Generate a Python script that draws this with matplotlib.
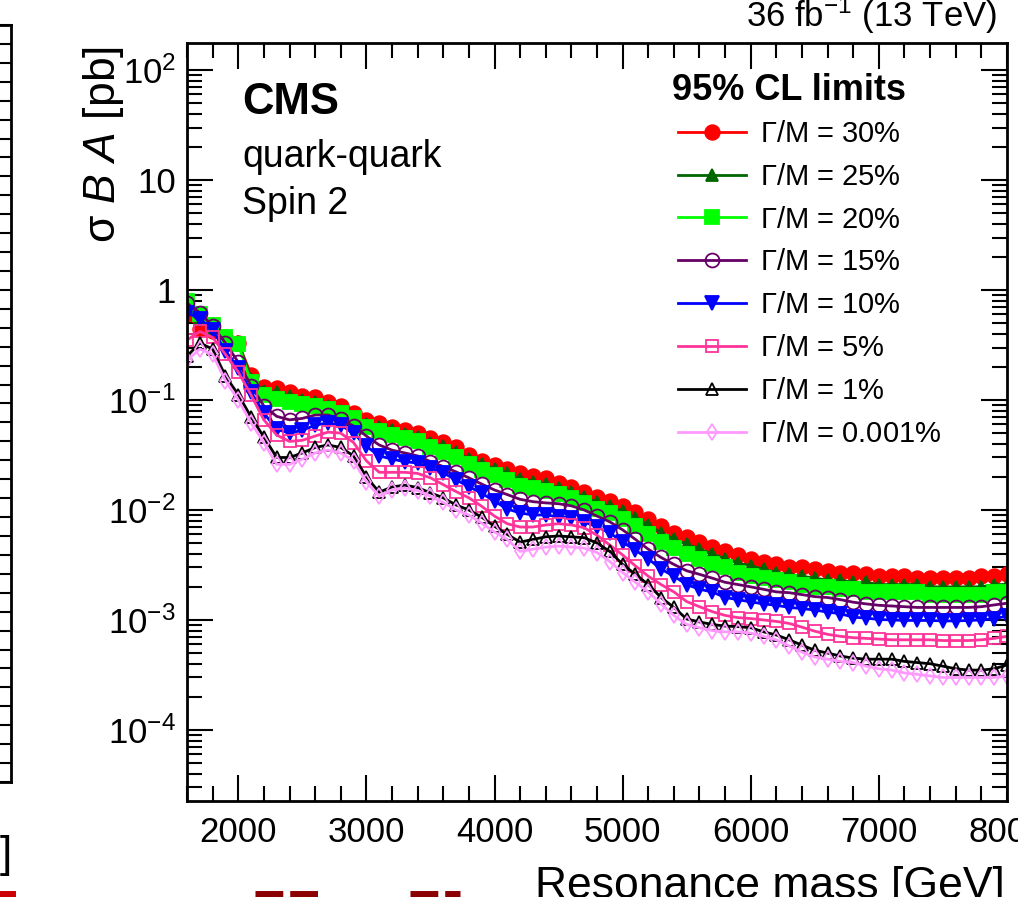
import matplotlib
matplotlib.use("Agg")
import matplotlib.pyplot as plt
import matplotlib.ticker as mticker
from matplotlib.lines import Line2D
import numpy as np

plt.rcParams['font.family'] = ['Liberation Sans', 'DejaVu Sans']
plt.rcParams['mathtext.fontset'] = 'custom'
plt.rcParams['mathtext.rm'] = 'Liberation Sans'
plt.rcParams['mathtext.it'] = 'Liberation Sans:italic'
plt.rcParams['mathtext.bf'] = 'Liberation Sans:bold'

# resonance mass points [GeV]
mass = list(range(1600, 8100, 100))

# 95% CL upper limits on sigma*B*A [pb], one list per width hypothesis
lim_30 = [0.60, 0.44, 0.42, 0.37, 0.33, 0.17, 0.13, 0.128, 0.118, 0.109,
          0.107, 0.096, 0.088, 0.076, 0.066, 0.062, 0.057, 0.053, 0.050, 0.045,
          0.0415, 0.037, 0.0315, 0.028, 0.0257, 0.0238, 0.0217, 0.0203, 0.0194, 0.0176,
          0.0162, 0.0145, 0.0130, 0.0121, 0.0109, 0.0096, 0.0083, 0.0071, 0.0062, 0.0057,
          0.0051, 0.0046, 0.0042, 0.0039, 0.0036, 0.0034, 0.0032, 0.0030, 0.0030, 0.0029,
          0.0028, 0.0027, 0.00267, 0.0026, 0.0025, 0.0025, 0.0025, 0.0024, 0.0024, 0.0024,
          0.0024, 0.0024, 0.0025, 0.0025, 0.0026]
lim_25 = [0.70, 0.55, 0.45, 0.36, 0.34, 0.155, 0.12, 0.118, 0.108, 0.099,
          0.096, 0.088, 0.080, 0.070, 0.061, 0.057, 0.053, 0.049, 0.046, 0.041,
          0.038, 0.034, 0.029, 0.026, 0.0237, 0.0215, 0.0192, 0.0180, 0.0173, 0.0158,
          0.0146, 0.0131, 0.0117, 0.0108, 0.0097, 0.0085, 0.0073, 0.0062, 0.0054, 0.0049,
          0.0044, 0.0040, 0.0036, 0.0033, 0.0031, 0.0029, 0.0027, 0.0026, 0.0025, 0.0024,
          0.0023, 0.0023, 0.0022, 0.0022, 0.0021, 0.0021, 0.0021, 0.0021, 0.0020, 0.0020,
          0.0020, 0.0020, 0.0020, 0.0021, 0.0021]
lim_20 = [0.80, 0.60, 0.48, 0.37, 0.32, 0.145, 0.11, 0.103, 0.096, 0.092,
          0.089, 0.083, 0.076, 0.068, 0.057, 0.052, 0.048, 0.045, 0.042, 0.037,
          0.034, 0.030, 0.026, 0.0232, 0.0208, 0.0188, 0.0165, 0.0157, 0.0150, 0.0139,
          0.0128, 0.0116, 0.0103, 0.0094, 0.0083, 0.0072, 0.0061, 0.0051, 0.0045, 0.0040,
          0.0036, 0.0032, 0.0030, 0.0027, 0.0025, 0.0024, 0.0023, 0.0022, 0.0021, 0.0020,
          0.0020, 0.0019, 0.0019, 0.0018, 0.0018, 0.0018, 0.0018, 0.0018, 0.0017, 0.0017,
          0.0017, 0.0017, 0.0017, 0.0018, 0.0018]
lim_15 = [0.76, 0.62, 0.47, 0.33, 0.22, 0.135, 0.088, 0.071, 0.066, 0.068,
          0.073, 0.073, 0.067, 0.058, 0.047, 0.039, 0.035, 0.033, 0.031, 0.0275,
          0.0248, 0.0222, 0.0196, 0.0172, 0.0152, 0.0138, 0.0125, 0.0119, 0.0116, 0.0114,
          0.0109, 0.0100, 0.0088, 0.0078, 0.0066, 0.0054, 0.0044, 0.0037, 0.0032, 0.0028,
          0.0026, 0.0024, 0.0022, 0.0021, 0.0020, 0.0019, 0.0018, 0.00177, 0.0017, 0.00163,
          0.0016, 0.00153, 0.00145, 0.0014, 0.00136, 0.00134, 0.00132, 0.0013, 0.0013, 0.0013,
          0.0013, 0.0013, 0.00132, 0.00137, 0.00142]
lim_10 = [0.62, 0.55, 0.43, 0.28, 0.195, 0.118, 0.076, 0.054, 0.050, 0.053,
          0.059, 0.062, 0.059, 0.050, 0.038, 0.031, 0.029, 0.0275, 0.0267, 0.024,
          0.0217, 0.0188, 0.0163, 0.0142, 0.0120, 0.0102, 0.0094, 0.0090, 0.0090, 0.0087,
          0.0085, 0.0078, 0.0070, 0.0062, 0.0051, 0.0043, 0.0036, 0.0029, 0.0025, 0.0021,
          0.0019, 0.0018, 0.0016, 0.00153, 0.00146, 0.0014, 0.00136, 0.0013, 0.00127, 0.00123,
          0.00118, 0.00114, 0.00106, 0.00104, 0.00101, 0.0010, 0.00099, 0.00099, 0.00099, 0.00098,
          0.00098, 0.00099, 0.0010, 0.00103, 0.00108]
lim_5 = [0.35, 0.42, 0.37, 0.26, 0.18, 0.111, 0.066, 0.048, 0.042, 0.043,
         0.047, 0.051, 0.050, 0.041, 0.028, 0.022, 0.022, 0.022, 0.0215, 0.0196,
         0.0170, 0.0147, 0.0129, 0.0108, 0.0088, 0.0075, 0.0070, 0.0070, 0.0073, 0.0075,
         0.0073, 0.0069, 0.0059, 0.0048, 0.0039, 0.0031, 0.0025, 0.0021, 0.0018, 0.00147,
         0.00132, 0.00119, 0.0011, 0.00105, 0.00103, 0.0010, 0.00097, 0.00093, 0.00086, 0.00079,
         0.00074, 0.00071, 0.00069, 0.00068, 0.00067, 0.00066, 0.00066, 0.00066, 0.00066, 0.00065,
         0.00065, 0.00065, 0.00066, 0.00068, 0.00071]
lim_1 = [0.25, 0.33, 0.29, 0.165, 0.112, 0.070, 0.046, 0.030, 0.030, 0.033,
         0.037, 0.039, 0.037, 0.031, 0.020, 0.0145, 0.0162, 0.0168, 0.0160, 0.0143,
         0.0129, 0.0111, 0.0100, 0.0086, 0.0071, 0.0060, 0.0051, 0.0054, 0.0057, 0.0058,
         0.0057, 0.0056, 0.0050, 0.0042, 0.0032, 0.0026, 0.0021, 0.0016, 0.0013, 0.00102,
         0.00096, 0.00091, 0.00088, 0.00087, 0.00085, 0.00078, 0.00073, 0.00066, 0.00059, 0.00053,
         0.00050, 0.00047, 0.00045, 0.00044, 0.00044, 0.00044, 0.00042, 0.00041, 0.00040, 0.00038,
         0.00036, 0.00035, 0.00035, 0.00036, 0.00039]
lim_0001 = [0.23, 0.29, 0.26, 0.15, 0.100, 0.062, 0.041, 0.026, 0.026, 0.029,
            0.033, 0.035, 0.033, 0.028, 0.018, 0.0133, 0.0152, 0.0158, 0.0150, 0.0133,
            0.0117, 0.0100, 0.0090, 0.0076, 0.0063, 0.0054, 0.0042, 0.0044, 0.0046, 0.0047,
            0.0046, 0.0045, 0.0041, 0.0034, 0.0027, 0.0022, 0.0018, 0.0014, 0.0011, 0.00091,
            0.00085, 0.00080, 0.00078, 0.00078, 0.00076, 0.00071, 0.00066, 0.00058, 0.00051, 0.00046,
            0.00044, 0.00042, 0.00041, 0.00038, 0.00036, 0.00035, 0.00033, 0.00032, 0.00031, 0.00030,
            0.00030, 0.00030, 0.00030, 0.00030, 0.00031]

labels = [r"$\Gamma$/M = 30%", r"$\Gamma$/M = 25%", r"$\Gamma$/M = 20%",
          r"$\Gamma$/M = 15%", r"$\Gamma$/M = 10%", r"$\Gamma$/M = 5%",
          r"$\Gamma$/M = 1%", r"$\Gamma$/M = 0.001%"]

fig = plt.figure(figsize=(10.18, 8.97), dpi=100)

W, H = 1018.0, 897.0
ax = fig.add_axes([187 / W, (H - 801) / H, (1007 - 187) / W, (801 - 43) / H])

# style per series: (data, color, marker, size, filled)
styles = [
    (lim_30, '#ff0000', 'o', 10.5, True),
    (lim_25, '#006600', '^', 9.0, True),
    (lim_20, '#00ff00', 's', 9.5, True),
    (lim_15, '#660066', 'o', 10.0, False),
    (lim_10, '#0000ff', 'v', 10.0, True),
    (lim_5, '#ff3399', 's', 9.0, False),
    (lim_1, '#000000', '^', 8.5, False),
    (lim_0001, '#ff99ff', 'd', 8.5, False),
]

handles = []
for (vals, col, mk, ms, filled), lab in zip(styles, labels):
    h, = ax.plot(mass, vals, color=col, lw=2, marker=mk, markersize=ms,
                 markerfacecolor=col if filled else 'none',
                 markeredgecolor=col, markeredgewidth=1.3, label=lab)
    handles.append(h)

ax.set_yscale('log')
ax.set_xlim(1600, 8000)
ax.set_ylim(2.26e-5, 176)

ax.xaxis.set_major_locator(mticker.MultipleLocator(1000))
ax.xaxis.set_minor_locator(mticker.MultipleLocator(200))
ax.yaxis.set_major_locator(mticker.LogLocator(base=10, numticks=20))
ax.yaxis.set_minor_locator(mticker.LogLocator(base=10, subs=np.arange(2, 10), numticks=20))
ax.yaxis.set_minor_formatter(mticker.NullFormatter())


def ylab(v, pos):
    e = int(round(np.log10(v)))
    if e == 0:
        return "1"
    if e == 1:
        return "10"
    return r"$10^{%d}$" % e


ax.yaxis.set_major_formatter(mticker.FuncFormatter(ylab))
ax.tick_params(which='both', direction='in', top=True, right=True, width=1.5,
               labelsize=25)
ax.tick_params(which='major', length=19)
ax.tick_params(which='minor', length=11)
ax.tick_params(axis='x', which='major', pad=11)
ax.tick_params(axis='y', which='major', pad=8)
for s in ax.spines.values():
    s.set_linewidth(2)

leg = ax.legend(handles=handles, loc='upper left', bbox_to_anchor=(0.584, 0.914),
                frameon=False, fontsize=21, handlelength=2.33, handletextpad=0.48,
                labelspacing=0.51, borderaxespad=0)

# texts
fig.text(242 / W, 1 - 82 / H, "CMS", fontsize=31.5, fontweight='bold', va='top')
fig.text(242 / W, 1 - 167 / H, "quark-quark", fontsize=27, va='baseline')
fig.text(242 / W, 1 - 214 / H, "Spin 2", fontsize=27, va='baseline')
fig.text(672 / W, 1 - 100 / H, "95% CL limits", fontsize=26, fontweight='bold',
         va='baseline')
fig.text(997 / W, 1 - 27 / H, r"36 fb$^{-1}$ (13 TeV)", fontsize=25, ha='right',
         va='baseline')
fig.text(1005 / W, 1 - 866 / H, "Resonance mass [GeV]", fontsize=32, ha='right',
         va='top')
fig.text(104 / W, 1 - 145 / H, r"σ $B$ $A$ [pb]", fontsize=32,
         rotation=90, ha='center', va='center')

# neighbouring panel fragment on the left edge
ax0 = fig.add_axes([-0.5, (H - 782) / H, 0.5 + 11 / W, (782 - 25) / H])
ax0.set_xlim(0, 1)
ax0.set_ylim(0, 40)
ax0.yaxis.set_major_locator(mticker.MultipleLocator(1))
ax0.tick_params(axis='y', which='major', direction='in', left=False, right=True,
                labelleft=False, length=15, width=1.5)
ax0.tick_params(axis='x', bottom=False, labelbottom=False)
for s in ax0.spines.values():
    s.set_linewidth(2)
fig.text(12 / W, 1 - 835 / H, "]", fontsize=32, ha='right', va='top')

# legend fragments of the panel below, cut by the bottom edge
for x0, x1 in [(255, 320), (410, 460)]:
    fig.add_artist(Line2D([x0 / W, x1 / W], [3 / H, 3 / H], color='#8b0000',
                          lw=5, ls=(0, (4, 1))))
fig.add_artist(Line2D([0, 12 / W], [3 / H, 3 / H], color='#cc0000', lw=5))

fig.savefig("out.png", dpi=100)
